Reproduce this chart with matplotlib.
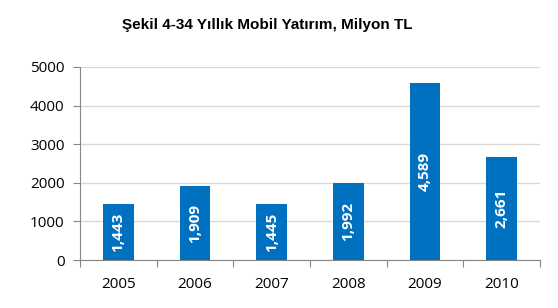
import matplotlib.pyplot as plt
import numpy as np

# Data
years = ['2005', '2006', '2007', '2008', '2009', '2010']
investment = [1443, 1909, 1445, 1992, 4589, 2661]
labels = ['1,443', '1,909', '1,445', '1,992', '4,589', '2,661']

fig = plt.figure(figsize=(5.58, 3.08), dpi=100)
ax = fig.add_axes([80 / 558, 48 / 308, 460 / 558, 193 / 308])

x = np.arange(len(years))
bars = ax.bar(x, investment, width=0.4, color='#0070C0', zorder=3)

# Value labels inside bars
for b, lab in zip(bars, labels):
    ax.text(b.get_x() + b.get_width() / 2, b.get_height() / 2, lab,
            rotation=90, ha='center', va='center', color='white',
            fontsize=11, fontweight='bold', family='Open Sans', zorder=4)

ax.set_xlim(-0.5, len(years) - 0.5)
ax.set_ylim(0, 5000)
ax.set_yticks(range(0, 5001, 1000))
ax.yaxis.grid(True, color='#D9D9D9', linewidth=1, zorder=0)

# category ticks between bars
ax.set_xticks(np.arange(-0.5, len(years), 1.0), minor=False)
ax.set_xticklabels([])
ax.set_xticks(x, minor=True)
ax.set_xticklabels(years, minor=True)
ax.tick_params(axis='x', which='major', length=5, color='#868686', direction='out')
ax.tick_params(axis='x', which='minor', length=0, pad=12, labelsize=11)
ax.tick_params(axis='y', length=5, color='#868686', labelsize=11, pad=6)
for lab in ax.get_xticklabels(minor=True) + ax.get_yticklabels():
    lab.set_family('Open Sans')

for side in ['top', 'right']:
    ax.spines[side].set_visible(False)
for side in ['left', 'bottom']:
    ax.spines[side].set_color('#868686')

fig.text(267 / 558, 1 - 25 / 308, 'Şekil 4-34 Yıllık Mobil Yatırım, Milyon TL', ha='center', va='center',
         fontsize=11, fontweight='bold', family='Liberation Sans')

plt.savefig('out.png', dpi=100)
